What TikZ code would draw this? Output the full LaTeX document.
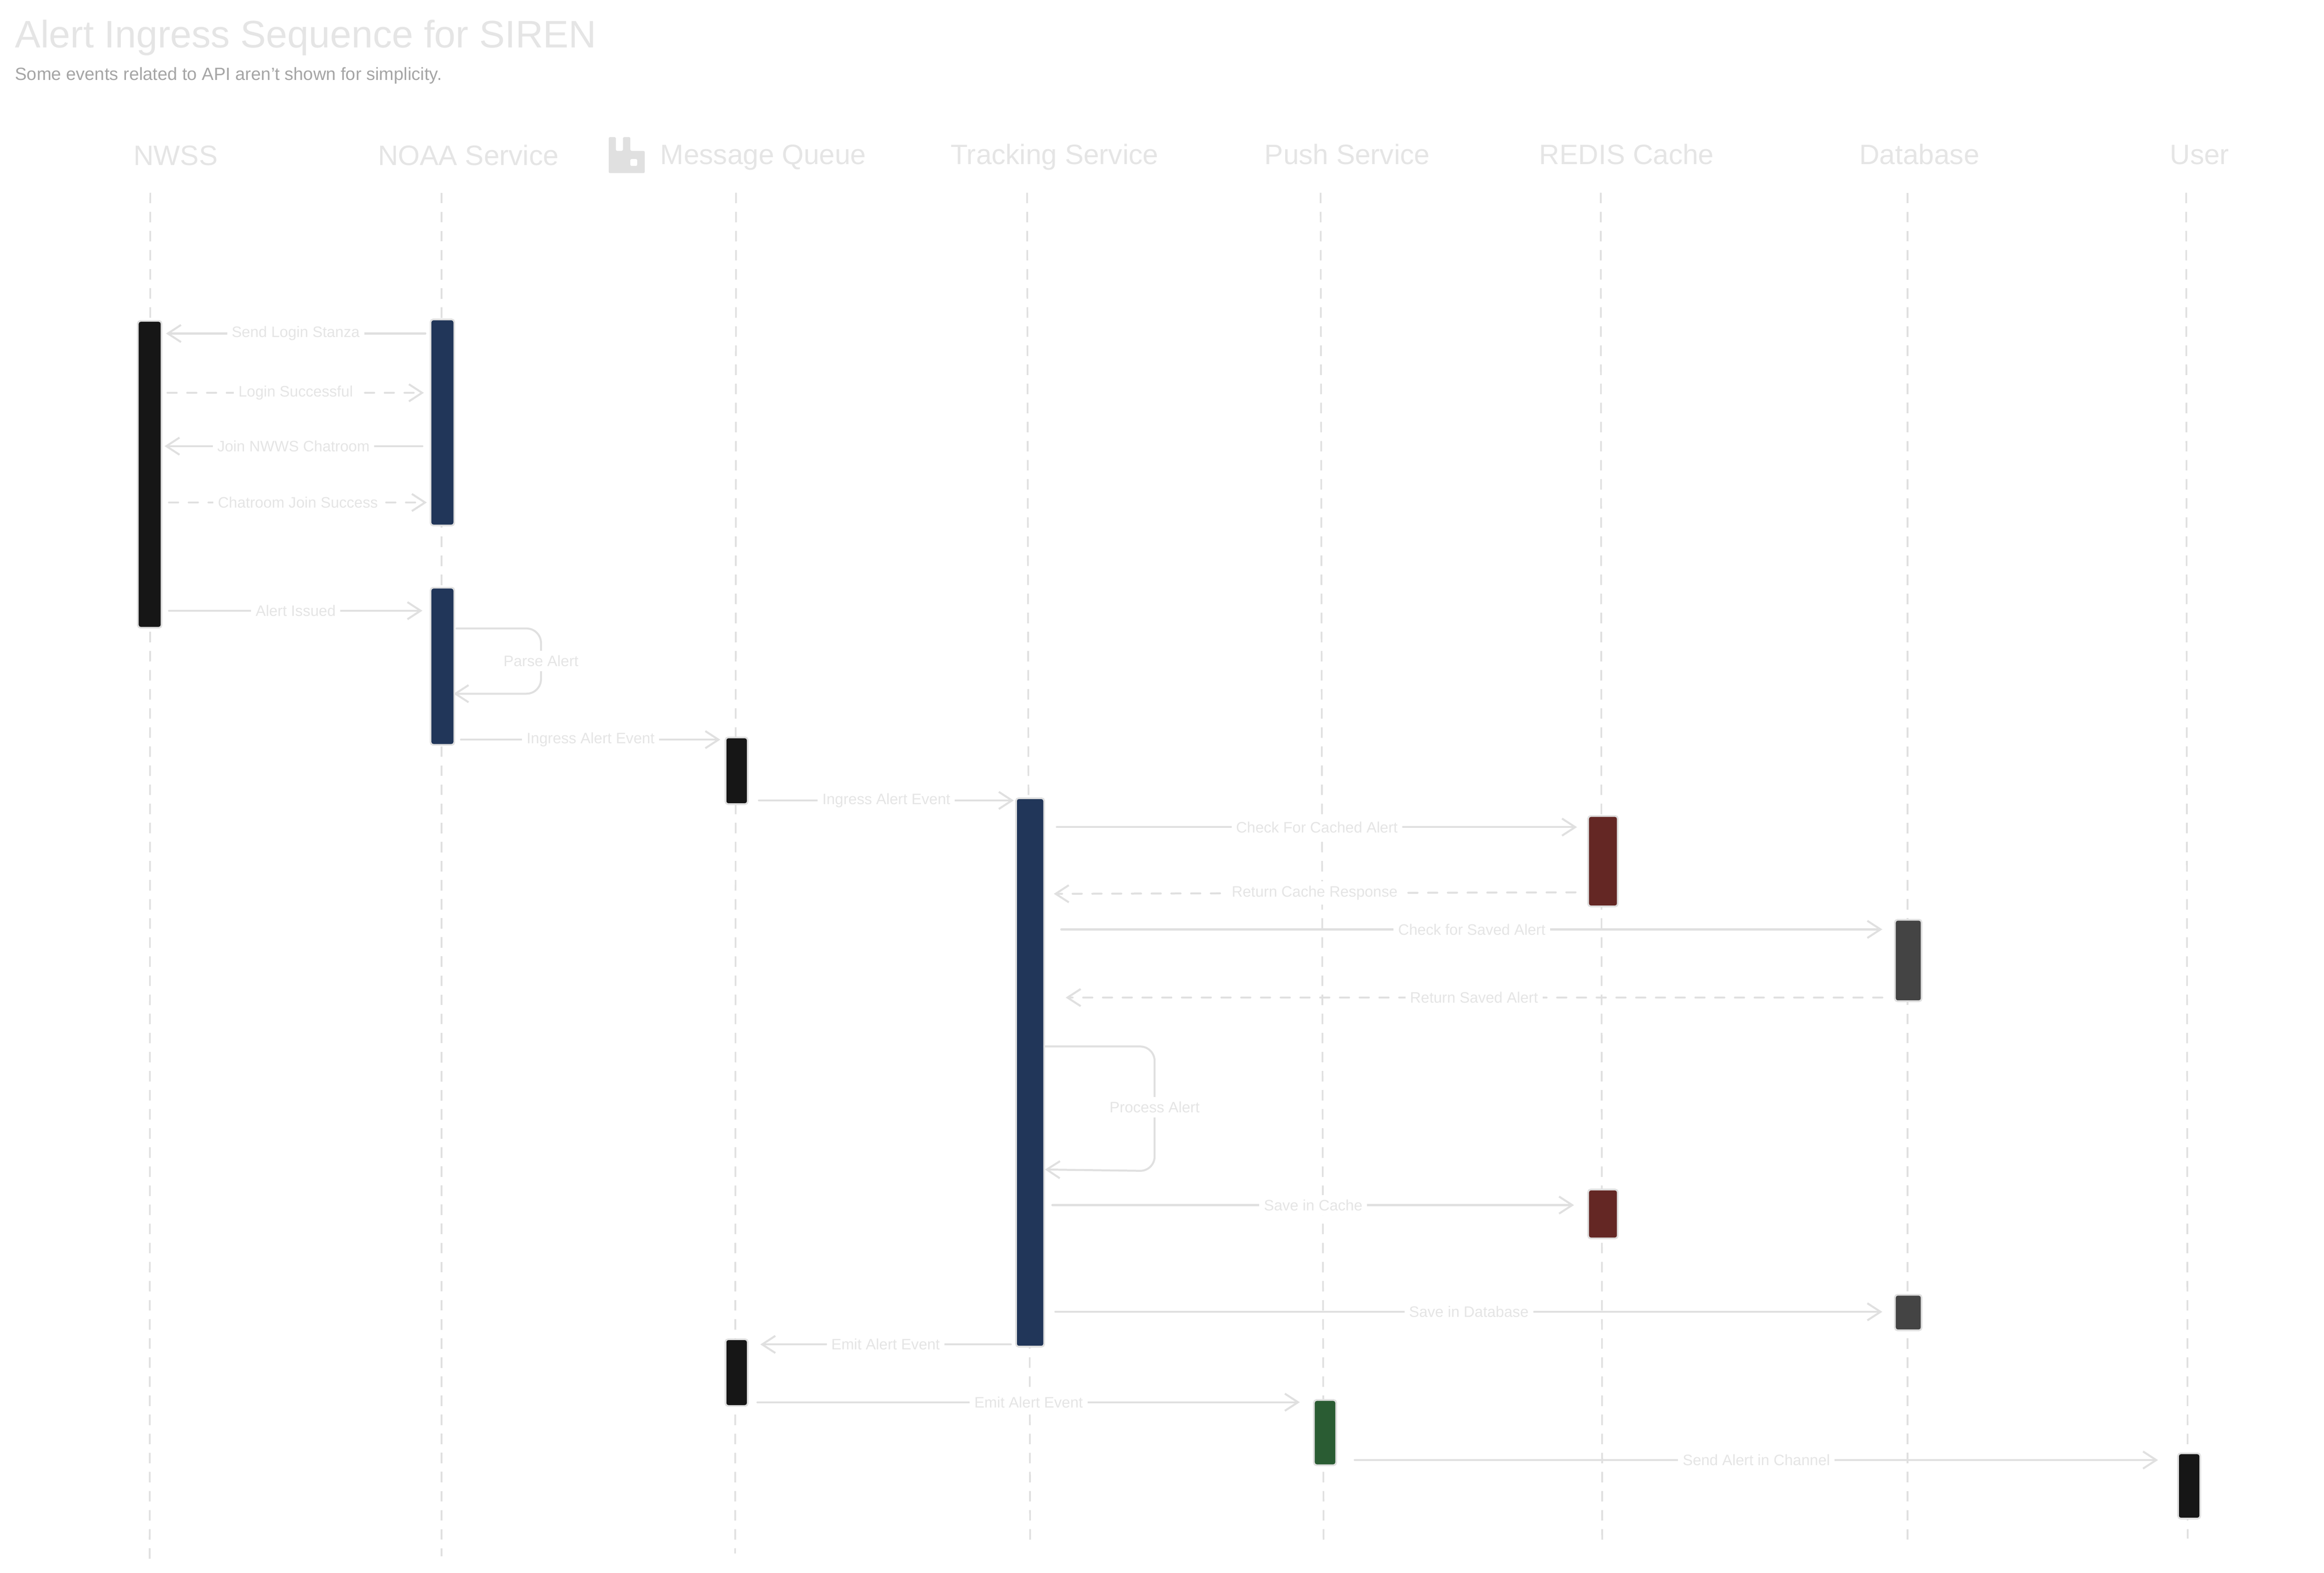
\documentclass[tikz,border=0pt]{standalone}
\usepackage{fontspec}
\setmainfont{Liberation Sans}
\usetikzlibrary{arrows.meta}
\definecolor{line}{HTML}{E0E0E0}
\definecolor{lab}{HTML}{E5E5E5}
\definecolor{muted}{HTML}{A5A5A5}
\definecolor{ink}{HTML}{161616}
\definecolor{navy}{HTML}{213659}
\definecolor{wine}{HTML}{642724}
\definecolor{slate}{HTML}{444444}
\definecolor{leaf}{HTML}{2A5C33}
\def\pu{0.03957cm}
\tikzset{
  life/.style={draw=line, line width=1.3pt, dash pattern=on 8pt off 6.5pt},
  msg/.style={draw=line, line width=1.5pt, line cap=round, line join=round, -{Straight Barb[length=10pt,width=13pt]}},
  reply/.style={msg, dash pattern=on 7pt off 8pt},
  selfmsg/.style={msg, rounded corners=11pt},
  msglab/.style={text=lab, fill=white, font=\fontsize{11.5}{14}\selectfont, inner sep=3.5pt},
  head/.style={text=lab, font=\fontsize{21.3}{25}\selectfont, inner sep=0pt, anchor=base},
  bar/.style={draw=line, line width=1.3pt, rounded corners=2pt, inner sep=0pt, minimum width=#1*\pu}
}
\begin{document}
\begin{tikzpicture}[x=\pu,y=-\pu]
  \useasboundingbox (0,0) rectangle (1568,1061);
  \node[text=lab, font=\fontsize{29.1}{34}\selectfont, anchor=base west, inner sep=0pt] (title) at (10,32) {Alert Ingress Sequence for SIREN};
  \node[text=muted, font=\fontsize{13.45}{16}\selectfont, anchor=base west, inner sep=0pt] (subtitle) at (10,54) {Some events related to API aren't shown for simplicity.};
  % heads
  \node[head] (nwss) at (118.5,111.5) {NWSS};
  \node[head] (noaa) at (316,111.5) {NOAA Service};
  \node[head] (queue) at (515,111) {Message Queue};
  \node[head] (track) at (711.5,111) {Tracking Service};
  \node[head] (push) at (909,111) {Push Service};
  \node[head] (redis) at (1097.5,111) {REDIS Cache};
  \node[head] (data) at (1295,111) {Database};
  \node[head] (user) at (1484,111) {User};
  \fill[line, even odd rule, rounded corners=1pt] (410.7,92.5) -- (415.5,92.5) -- (415.5,101.8) -- (420.3,101.8) -- (420.3,92.5) -- (425.3,92.5) -- (425.3,101.8) -- (435,101.8) -- (435,116.8) -- (410.7,116.8) -- cycle
    (425.3,107.2) -- (429.9,107.2) -- (429.9,112) -- (425.3,112) -- cycle;
  % lifelines
  \draw[life] (101.4,130) -- (101,1052);
  \draw[life] (298,130) -- (298,1050);
  \draw[life] (496.6,130) -- (496,1048);
  \draw[life] (693,130) -- (695,1040);
  \draw[life] (891,130) -- (893,1040);
  \draw[life] (1080,130) -- (1081,1040);
  \draw[life] (1287,130) -- (1287,1040);
  \draw[life] (1475,130) -- (1476,1038);
  % messages
  \draw[msg] (287,225) -- node[msglab] (m1) {Send Login Stanza} (112,225);
  \draw[reply] (113,265) -- node[msglab] (m2) {Login Successful} (286,265);
  \draw[msg] (285,301) -- node[msglab] (m3) {Join NWWS Chatroom} (111,301);
  \draw[reply] (114,339) -- node[msglab] (m4) {Chatroom Join Success} (288,339);
  \draw[msg] (114,412) -- node[msglab] (m5) {Alert Issued} (285,412);
  \draw[selfmsg] (308,424) -- (365,424) -- (365,468) -- (306,468);
  \node[msglab] (parse) at (365,446) {Parse Alert};
  \draw[msg] (311,499) -- node[msglab] (m6) {Ingress Alert Event} (486,499);
  \draw[msg] (512,540) -- node[msglab] (m7) {Ingress Alert Event} (684,540);
  \draw[msg] (713,558) -- node[msglab] (m8) {Check For Cached Alert} (1064,558);
  \draw[reply] (1063,602) -- node[msglab] (m9) {Return Cache Response} (711,603);
  \draw[msg] (716,627) -- node[msglab] (m10) {Check for Saved Alert} (1270,627);
  \draw[reply] (1270,673) -- node[msglab] (m11) {Return Saved Alert} (719,673);
  \draw[selfmsg] (705,706) -- (779,706) -- (779,790) -- (705,789);
  \node[msglab] (process) at (779,747) {Process Alert};
  \draw[msg] (710,813) -- node[msglab] (m12) {Save in Cache} (1062,813);
  \draw[msg] (712,885) -- node[msglab] (m13) {Save in Database} (1270,885);
  \draw[msg] (682,907) -- node[msglab] (m14) {Emit Alert Event} (513,907);
  \draw[msg] (511,946) -- node[msglab] (m15) {Emit Alert Event} (877,946);
  \draw[msg] (914,985) -- node[msglab] (m16) {Send Alert in Channel} (1456,985);
  % activations
  \node[bar=16, fill=ink, minimum height=207*\pu] (nwssA) at (101,320) {};
  \node[bar=16, fill=navy, minimum height=139*\pu] (noaaA) at (298.5,285) {};
  \node[bar=16, fill=navy, minimum height=106*\pu] (noaaB) at (298.5,449.5) {};
  \node[bar=15, fill=ink, minimum height=45*\pu] (queueA) at (497,520) {};
  \node[bar=19, fill=navy, minimum height=370*\pu] (trackA) at (695,723.5) {};
  \node[bar=20, fill=wine, minimum height=61*\pu] (redisA) at (1081.5,581) {};
  \node[bar=18, fill=slate, minimum height=55*\pu] (dataA) at (1287.5,648) {};
  \node[bar=20, fill=wine, minimum height=33*\pu] (redisB) at (1081.5,819) {};
  \node[bar=18, fill=slate, minimum height=24*\pu] (dataB) at (1287.5,885.5) {};
  \node[bar=15, fill=ink, minimum height=45*\pu] (queueB) at (497,926) {};
  \node[bar=15, fill=leaf, minimum height=44*\pu] (pushA) at (894,966.5) {};
  \node[bar=15, fill=ink, minimum height=44*\pu] (userA) at (1477,1002.5) {};
\end{tikzpicture}
\end{document}
